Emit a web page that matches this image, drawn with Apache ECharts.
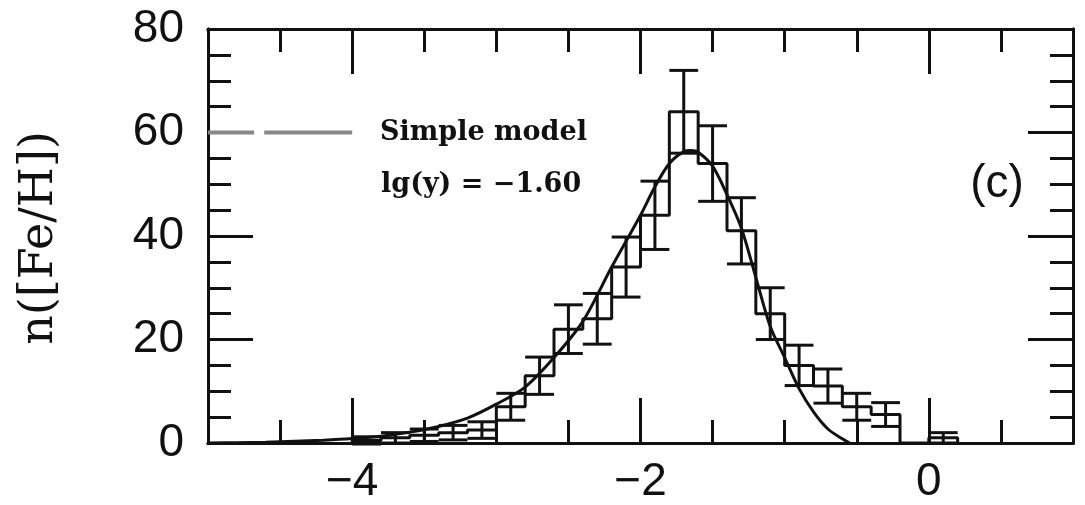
<!DOCTYPE html>
<html><head><meta charset="utf-8">
<script src="https://cdn.jsdelivr.net/npm/echarts@6/dist/echarts.min.js"></script>
<style>html,body{margin:0;padding:0;background:#fff}#c{width:1085px;height:505px}</style>
</head><body><div id="c"></div>
<script>
// Histogram bins (left edges), bin width and counts
const binLeft = [-4.0,-3.8,-3.6,-3.4,-3.2,-3.0,-2.8,-2.6,-2.4,-2.2,-2.0,-1.8,-1.6,-1.4,-1.2,-1.0,-0.8,-0.6,-0.4,-0.2,0.0];
const binWidth = 0.2;
const counts = [0.5,1,1.5,2,2.5,7,13,22,24,34,44,64,54,41,25,15,11,7,5.5,0,1];
const errHalf = [0.7,1,1.2,1.4,1.6,2.6,3.6,4.7,4.9,5.8,6.6,8,7.3,6.4,5,3.9,3.3,2.6,2.3,0,1];
// Simple model curve
const modelX = [-5.0,-4.8,-4.6,-4.4,-4.2,-4.0,-3.8,-3.6,-3.4,-3.2,-3.0,-2.8,-2.6,-2.4,-2.2,-2.0,-1.9,-1.8,-1.7,-1.65,-1.6,-1.5,-1.4,-1.3,-1.2,-1.1,-1.0,-0.9,-0.8,-0.7,-0.6,-0.55];
const modelY = [0,0.05,0.15,0.35,0.55,0.85,1.3,2.1,3.2,4.8,7.5,10.8,16.5,23.5,34,44,49.5,54,56.3,56.5,56.2,53.5,48,41.5,32,22.5,16.5,10.5,6,2.7,0.8,0];
// Legend sample line (data coords, two dashes)
const legendDash1 = [[-5.0,60],[-4.68,60]];
const legendDash2 = [[-4.61,60],[-4.0,60]];
// Axis ticks / labels
const xMajor = [-4,-2,0];
const xMinor = [-4.5,-3.5,-3,-2.5,-1.5,-1,-0.5,0.5];
const yMajor = [0,20,40,60,80];
const yMinor = [5,10,15,25,30,35,45,50,55,65,70,75];

const stepPts = [[binLeft[0],0]];
binLeft.forEach((l,i)=>{ stepPts.push([l,counts[i]]); stepPts.push([l+binWidth,counts[i]]); });
stepPts.push([binLeft[binLeft.length-1]+binWidth,0]);

const errData = [];
binLeft.forEach((l,i)=>{ if(errHalf[i]>0) errData.push([l,l+binWidth,counts[i]-errHalf[i],counts[i]+errHalf[i]]); });

const BLACK='#111';
const LW=3;
function xAx(pos, vals, len, labels){
  return {type:'value',min:-5,max:1,position:pos,
    axisLine:{show:true,onZero:false,lineStyle:{color:BLACK,width:LW}},
    axisTick:{show:true,inside:true,length:len,customValues:vals,lineStyle:{color:BLACK,width:LW}},
    axisLabel:labels?{show:true,customValues:xMajor,margin:16,color:'#111',fontSize:46,fontFamily:'Liberation Sans',
      formatter:v=> v<0?'\u2212'+Math.abs(v):String(v)}:{show:false},
    splitLine:{show:false}};
}
function yAx(pos, vals, len, labels){
  return {type:'value',min:0,max:80,position:pos,
    axisLine:{show:true,onZero:false,lineStyle:{color:BLACK,width:LW}},
    axisTick:{show:true,inside:true,length:len,customValues:vals,lineStyle:{color:BLACK,width:LW}},
    axisLabel:labels?{show:true,customValues:yMajor,margin:24,color:'#111',fontSize:46,fontFamily:'Liberation Sans'}:{show:false},
    splitLine:{show:false}};
}

const chart = echarts.init(document.getElementById('c'),null,{renderer:'canvas'});
chart.setOption({
  animation:false,
  backgroundColor:'#fff',
  grid:{left:208,right:12,top:29,bottom:58,containLabel:false},
  xAxis:[xAx('bottom',xMajor,45,true),xAx('bottom',xMinor,23,false),xAx('top',xMajor,45,false),xAx('top',xMinor,23,false)],
  yAxis:[yAx('left',yMajor,45,true),yAx('left',yMinor,23,false),yAx('right',yMajor,45,false),yAx('right',yMinor,23,false)],
  series:[
    {type:'line',data:legendDash1,showSymbol:false,lineStyle:{color:'#888',width:4},silent:true},
    {type:'line',data:legendDash2,showSymbol:false,lineStyle:{color:'#888',width:4},silent:true},
    {type:'line',data:stepPts,showSymbol:false,lineStyle:{color:BLACK,width:LW},silent:true},
    {type:'custom',data:errData,silent:true,
      renderItem:function(params,api){
        const x0=api.value(0),x1=api.value(1),lo=api.value(2),hi=api.value(3);
        const xc=(x0+x1)/2;
        const pLoL=api.coord([x0,lo]),pLoR=api.coord([x1,lo]);
        const pHiL=api.coord([x0,hi]),pHiR=api.coord([x1,hi]);
        const pc0=api.coord([xc,lo]),pc1=api.coord([xc,hi]);
        const st={stroke:BLACK,lineWidth:LW};
        return {type:'group',children:[
          {type:'line',shape:{x1:pc0[0],y1:pc0[1],x2:pc1[0],y2:pc1[1]},style:st},
          {type:'line',shape:{x1:pLoL[0],y1:pLoL[1],x2:pLoR[0],y2:pLoR[1]},style:st},
          {type:'line',shape:{x1:pHiL[0],y1:pHiL[1],x2:pHiR[0],y2:pHiR[1]},style:st}
        ]};
      }},
    {type:'line',data:modelX.map((x,i)=>[x,modelY[i]]),smooth:0.3,showSymbol:false,lineStyle:{color:BLACK,width:LW},silent:true}
  ],
  graphic:[
    {type:'text',x:40,y:238,rotation:Math.PI/2,style:{text:'n([Fe/H])',font:'46px "DejaVu Serif"',fill:'#111',align:'center',verticalAlign:'middle'}},
    {type:'text',x:380,y:133,style:{text:'Simple model',font:'bold 27px "DejaVu Serif"',fill:'#111',align:'left',verticalAlign:'middle'}},
    {type:'text',x:381,y:185,style:{text:'lg(y) = \u22121.60',font:'bold 27px "DejaVu Serif"',fill:'#111',align:'left',verticalAlign:'middle'}},
    {type:'text',x:997,y:184,style:{text:'(c)',font:'46px "Liberation Sans"',fill:'#111',align:'center',verticalAlign:'middle'}}
  ]
});
</script></body></html>
